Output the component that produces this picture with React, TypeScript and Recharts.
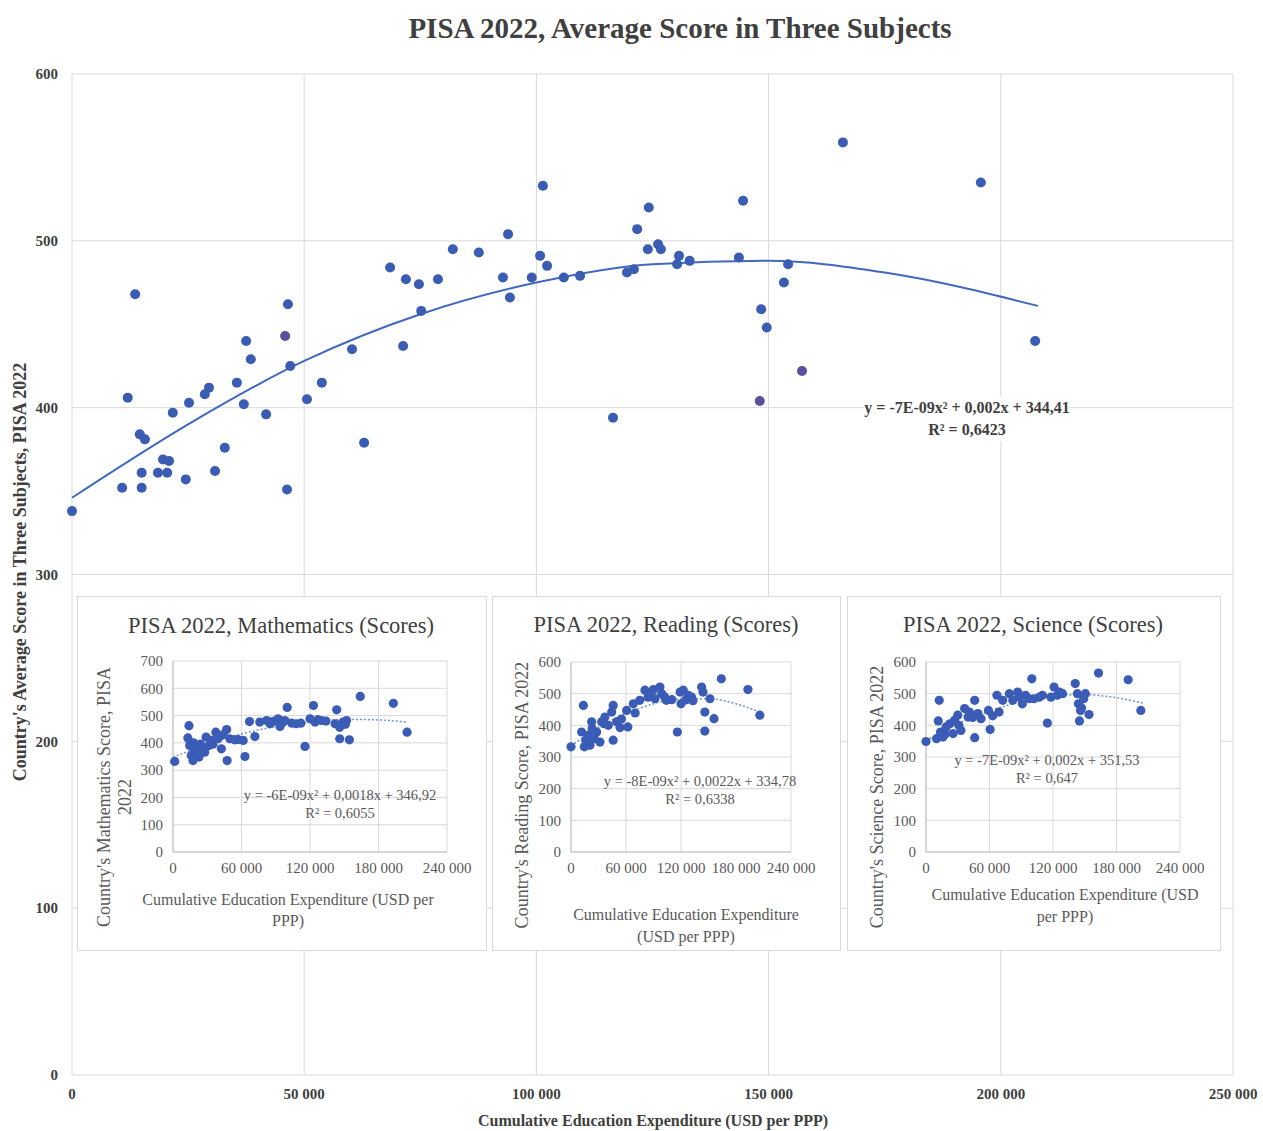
import { ComposedChart, Scatter, Line, XAxis, YAxis, CartesianGrid } from 'recharts'

const SERIF = '"Liberation Serif", "Times New Roman", serif'

// main chart: average of three subjects
const averagePoints = [
  { x: 0, y: 338 }, { x: 10800, y: 352 }, { x: 12000, y: 406 }, { x: 13600, y: 468 },
  { x: 14600, y: 384 }, { x: 15700, y: 381 }, { x: 15000, y: 361 }, { x: 15000, y: 352 },
  { x: 18500, y: 361 }, { x: 19600, y: 369 }, { x: 20900, y: 368 }, { x: 20500, y: 361 },
  { x: 21700, y: 397 }, { x: 24500, y: 357 }, { x: 25200, y: 403 }, { x: 28600, y: 408 },
  { x: 29500, y: 412 }, { x: 30800, y: 362 }, { x: 32900, y: 376 }, { x: 35500, y: 415 },
  { x: 37000, y: 402 }, { x: 37500, y: 440 }, { x: 38500, y: 429 }, { x: 41800, y: 396 },
  { x: 46500, y: 462 }, { x: 46300, y: 351 }, { x: 47000, y: 425 }, { x: 50600, y: 405 },
  { x: 53800, y: 415 }, { x: 60300, y: 435 }, { x: 62900, y: 379 }, { x: 68500, y: 484 },
  { x: 71300, y: 437 }, { x: 71900, y: 477 }, { x: 74700, y: 474 }, { x: 75200, y: 458 },
  { x: 78800, y: 477 }, { x: 82000, y: 495 }, { x: 87600, y: 493 }, { x: 92800, y: 478 },
  { x: 93900, y: 504 }, { x: 94300, y: 466 }, { x: 99000, y: 478 }, { x: 100800, y: 491 },
  { x: 101400, y: 533 }, { x: 102300, y: 485 }, { x: 105900, y: 478 }, { x: 109400, y: 479 },
  { x: 116500, y: 394 }, { x: 119500, y: 481 }, { x: 121000, y: 483 }, { x: 121700, y: 507 },
  { x: 124200, y: 520 }, { x: 124000, y: 495 }, { x: 126200, y: 498 }, { x: 126800, y: 495 },
  { x: 130700, y: 491 }, { x: 130300, y: 486 }, { x: 133000, y: 488 }, { x: 143600, y: 490 },
  { x: 144500, y: 524 }, { x: 148400, y: 459 }, { x: 149600, y: 448 }, { x: 153300, y: 475 },
  { x: 154200, y: 486 }, { x: 166000, y: 559 }, { x: 195700, y: 535 }, { x: 207400, y: 440 },
]
const averagePurple = [
  { x: 45900, y: 443 }, { x: 148100, y: 404 }, { x: 157200, y: 422 },
]
const averageTrend = [
  { x: 0, y: 346 }, { x: 25000, y: 390 }, { x: 50000, y: 428 }, { x: 75000, y: 456 },
  { x: 100000, y: 475 }, { x: 125000, y: 486 }, { x: 150000, y: 488 }, { x: 175000, y: 481 },
  { x: 208000, y: 461 },
]

const mathPoints = [
  { x: 1500, y: 332 }, { x: 14000, y: 463 }, { x: 13000, y: 418 }, { x: 14600, y: 390 },
  { x: 16000, y: 354 }, { x: 17500, y: 335 }, { x: 19000, y: 372 }, { x: 20500, y: 384 },
  { x: 22800, y: 348 }, { x: 25000, y: 378 }, { x: 27800, y: 366 }, { x: 29000, y: 421 },
  { x: 31600, y: 390 }, { x: 33700, y: 409 }, { x: 37500, y: 439 }, { x: 39500, y: 415 },
  { x: 42400, y: 378 }, { x: 47000, y: 449 }, { x: 47400, y: 335 }, { x: 49800, y: 415 },
  { x: 54000, y: 411 }, { x: 61500, y: 409 }, { x: 63000, y: 350 }, { x: 67000, y: 478 },
  { x: 71700, y: 423 }, { x: 76000, y: 476 }, { x: 82000, y: 482 }, { x: 87800, y: 479 },
  { x: 92000, y: 488 }, { x: 93700, y: 460 }, { x: 98000, y: 482 }, { x: 100000, y: 530 },
  { x: 104000, y: 472 }, { x: 108000, y: 470 }, { x: 115600, y: 387 }, { x: 120000, y: 488 },
  { x: 123000, y: 537 }, { x: 124400, y: 476 }, { x: 130000, y: 482 }, { x: 143400, y: 521 },
  { x: 142000, y: 470 }, { x: 146000, y: 457 }, { x: 146000, y: 415 }, { x: 149000, y: 476 },
  { x: 152000, y: 482 }, { x: 154500, y: 411 }, { x: 164000, y: 570 }, { x: 193000, y: 545 },
  { x: 205000, y: 439 }, { x: 18000, y: 400 }, { x: 24000, y: 395 }, { x: 35000, y: 395 },
  { x: 44000, y: 430 }, { x: 57000, y: 412 }, { x: 85000, y: 470 }, { x: 96000, y: 475 },
  { x: 112000, y: 472 }, { x: 127000, y: 485 }, { x: 134000, y: 480 }, { x: 151000, y: 468 },
]
const mathTrend = [
  { x: 0, y: 347 }, { x: 40000, y: 409 }, { x: 80000, y: 452 }, { x: 120000, y: 476 },
  { x: 150000, y: 486 }, { x: 180000, y: 484 }, { x: 205000, y: 476 },
]

const readingPoints = [
  { x: 0, y: 332 }, { x: 13500, y: 463 }, { x: 11600, y: 379 }, { x: 14500, y: 332 },
  { x: 16000, y: 353 }, { x: 19000, y: 368 }, { x: 20700, y: 337 }, { x: 22500, y: 411 },
  { x: 25500, y: 358 }, { x: 28000, y: 379 }, { x: 31600, y: 347 }, { x: 33500, y: 411 },
  { x: 37000, y: 426 }, { x: 40700, y: 400 }, { x: 44400, y: 442 }, { x: 46000, y: 463 },
  { x: 46000, y: 353 }, { x: 49800, y: 411 }, { x: 53500, y: 393 }, { x: 60700, y: 447 },
  { x: 62000, y: 395 }, { x: 68000, y: 468 }, { x: 70000, y: 439 }, { x: 75000, y: 479 },
  { x: 80700, y: 511 }, { x: 84000, y: 489 }, { x: 90000, y: 513 }, { x: 91600, y: 484 },
  { x: 97000, y: 521 }, { x: 99000, y: 500 }, { x: 104000, y: 479 }, { x: 110000, y: 481 },
  { x: 116000, y: 379 }, { x: 119000, y: 505 }, { x: 120000, y: 468 }, { x: 122500, y: 511 },
  { x: 128000, y: 495 }, { x: 131600, y: 489 }, { x: 142500, y: 521 }, { x: 144000, y: 505 },
  { x: 146000, y: 442 }, { x: 146000, y: 382 }, { x: 151600, y: 484 }, { x: 156000, y: 421 },
  { x: 164000, y: 547 }, { x: 193000, y: 513 }, { x: 206000, y: 432 }, { x: 23000, y: 390 },
  { x: 36000, y: 405 }, { x: 55000, y: 420 }, { x: 87000, y: 500 }, { x: 102000, y: 490 },
  { x: 125000, y: 480 }, { x: 133000, y: 478 },
]
const readingTrend = [
  { x: 0, y: 335 }, { x: 40000, y: 410 }, { x: 80000, y: 459 }, { x: 120000, y: 483 },
  { x: 150000, y: 484 }, { x: 180000, y: 468 }, { x: 205000, y: 443 },
]

const sciencePoints = [
  { x: 0, y: 349 }, { x: 12500, y: 479 }, { x: 11600, y: 414 }, { x: 10000, y: 358 },
  { x: 13700, y: 379 }, { x: 16000, y: 363 }, { x: 19000, y: 395 }, { x: 22500, y: 405 },
  { x: 25600, y: 374 }, { x: 27000, y: 416 }, { x: 30000, y: 432 }, { x: 33000, y: 384 },
  { x: 36500, y: 453 }, { x: 39700, y: 426 }, { x: 41000, y: 442 }, { x: 46000, y: 479 },
  { x: 46000, y: 361 }, { x: 49000, y: 437 }, { x: 52000, y: 421 }, { x: 59000, y: 447 },
  { x: 60600, y: 387 }, { x: 67000, y: 495 }, { x: 69000, y: 442 }, { x: 72500, y: 479 },
  { x: 78800, y: 500 }, { x: 82000, y: 479 }, { x: 86600, y: 505 }, { x: 91000, y: 468 },
  { x: 94000, y: 495 }, { x: 97500, y: 484 }, { x: 100000, y: 547 }, { x: 102000, y: 484 },
  { x: 107000, y: 489 }, { x: 114700, y: 407 }, { x: 118000, y: 489 }, { x: 121000, y: 521 },
  { x: 124000, y: 495 }, { x: 129000, y: 500 }, { x: 141000, y: 532 }, { x: 143000, y: 500 },
  { x: 144000, y: 468 }, { x: 145000, y: 414 }, { x: 146000, y: 447 }, { x: 149000, y: 484 },
  { x: 150600, y: 500 }, { x: 154000, y: 434 }, { x: 163000, y: 565 }, { x: 191000, y: 544 },
  { x: 203000, y: 447 }, { x: 18000, y: 372 }, { x: 31000, y: 400 }, { x: 44000, y: 425 },
  { x: 63000, y: 430 }, { x: 88000, y: 490 }, { x: 110000, y: 495 }, { x: 126000, y: 505 },
  { x: 147000, y: 455 },
]
const scienceTrend = [
  { x: 0, y: 352 }, { x: 40000, y: 420 }, { x: 80000, y: 466 }, { x: 120000, y: 493 },
  { x: 150000, y: 497 }, { x: 180000, y: 487 }, { x: 205000, y: 470 },
]

const mainXTicks = [0, 50000, 100000, 150000, 200000, 250000]
const mainYTicks = [0, 100, 200, 300, 400, 500, 600]
const insetXTicks = [0, 60000, 120000, 180000, 240000]
const mathYTicks = [0, 100, 200, 300, 400, 500, 600, 700]
const otherYTicks = [0, 100, 200, 300, 400, 500, 600]

const fmt = (v: number) =>
  v < 1000 ? String(v) : `${Math.floor(v / 1000)} ${String(v % 1000).padStart(3, '0')}`

const dot = (r: number, fill: string) => (p: any) =>
  <circle cx={p.cx} cy={p.cy} r={r} fill={fill} />

function Txt({ x, y, size, bold, rot, color, bg, lh, children }: any) {
  return (
    <div style={{
      position: 'absolute', left: x, top: y,
      transform: `translate(-50%, -50%)${rot ? ` rotate(${rot}deg)` : ''}`,
      whiteSpace: 'pre', textAlign: 'center', fontSize: size,
      fontWeight: bold ? 'bold' : 'normal', color: color || '#404040',
      background: bg, lineHeight: lh ? `${lh}px` : 1.15, fontFamily: SERIF,
    }}>{children}</div>
  )
}

function Inset({ left, top, width, height, margin, yTicks, points, trend }: any) {
  const tick = { fontSize: 15, fill: '#595959', fontFamily: SERIF }
  return (
    <div style={{
      position: 'absolute', left, top, width, height, background: '#fff',
      boxShadow: '0 0 0 1px #d9d9d9',
    }}>
      <ComposedChart width={width} height={height} margin={margin}>
        <CartesianGrid stroke="#d9d9d9" />
        <XAxis type="number" dataKey="x" domain={[0, 240000]} ticks={insetXTicks}
          tickFormatter={fmt} height={30} tick={tick} tickLine={false}
          axisLine={{ stroke: '#bfbfbf' }} tickSize={4} tickMargin={6} />
        <YAxis type="number" dataKey="y" domain={[0, yTicks[yTicks.length - 1]]} ticks={yTicks}
          width={30} tick={tick} tickLine={false} axisLine={{ stroke: '#bfbfbf' }}
          tickSize={4} tickMargin={6} />
        <Line data={trend} dataKey="y" type="monotone" dot={false} stroke="#6f8fd0"
          strokeWidth={1.5} strokeDasharray="2 2" isAnimationActive={false} />
        <Scatter data={points} dataKey="y" shape={dot(4.6, '#3a5cb6')} isAnimationActive={false} />
      </ComposedChart>
    </div>
  )
}

export default function App() {
  const mainTick = { fontSize: 15, fill: '#404040', fontFamily: SERIF, fontWeight: 'bold' }
  return (
    <div style={{ position: 'absolute', left: 0, top: 0, width: 1263, height: 1131, background: '#fff', fontFamily: SERIF }}>
      <div style={{ position: 'absolute', left: 0, top: 0 }}>
        <ComposedChart width={1263} height={1131} margin={{ top: 74, right: 30, bottom: 26, left: 12 }}>
          <CartesianGrid stroke="#d9d9d9" />
          <XAxis type="number" dataKey="x" domain={[0, 250000]} ticks={mainXTicks}
            tickFormatter={fmt} height={30} tick={mainTick} axisLine={false} tickLine={false}
            tickSize={6} tickMargin={7} />
          <YAxis type="number" dataKey="y" domain={[0, 600]} ticks={mainYTicks} width={60}
            tick={mainTick} axisLine={false} tickLine={false} tickSize={6} tickMargin={8} />
          <Scatter data={averagePoints} dataKey="y" shape={dot(5, '#3a5cb3')} isAnimationActive={false} />
          <Scatter data={averagePurple} dataKey="y" shape={dot(5, '#5a4f9f')} isAnimationActive={false} />
          <Line data={averageTrend} dataKey="y" type="monotone" dot={false} stroke="#4168bf"
            strokeWidth={2} isAnimationActive={false} />
        </ComposedChart>
      </div>

      <Txt x={680} y={29} size={29} bold>PISA 2022, Average Score in Three Subjects</Txt>
      <Txt x={20} y={572} size={18} bold rot={-90}>Country's Average Score in Three Subjects, PISA 2022</Txt>
      <Txt x={653} y={1121} size={16} bold>Cumulative Education Expenditure (USD per PPP)</Txt>
      <Txt x={967} y={419} size={16} bold bg="#fff" lh={22}>{'y = -7E-09x² + 0,002x + 344,41\nR² = 0,6423'}</Txt>

      <Inset left={78} top={597} width={408} height={353}
        margin={{ top: 64, right: 39, bottom: 68, left: 65 }}
        yTicks={mathYTicks} points={mathPoints} trend={mathTrend} />
      <Inset left={493} top={597} width={347} height={353}
        margin={{ top: 65, right: 49, bottom: 68, left: 48 }}
        yTicks={otherYTicks} points={readingPoints} trend={readingTrend} />
      <Inset left={848} top={597} width={372} height={353}
        margin={{ top: 65, right: 40, bottom: 68, left: 48 }}
        yTicks={otherYTicks} points={sciencePoints} trend={scienceTrend} />

      <Txt x={281} y={626} size={22.5} color="#404040">PISA 2022, Mathematics (Scores)</Txt>
      <Txt x={115} y={797} size={18} rot={-90} lh={21} color="#595959">{"Country's Mathematics Score, PISA\n2022"}</Txt>
      <Txt x={288} y={910} size={16} lh={21} color="#595959">{'Cumulative Education Expenditure (USD per\nPPP)'}</Txt>
      <Txt x={340} y={804} size={14.5} lh={18} color="#595959">{'y = -6E-09x² + 0,0018x + 346,92\nR² = 0,6055'}</Txt>

      <Txt x={666} y={625} size={22.5} color="#404040">PISA 2022, Reading (Scores)</Txt>
      <Txt x={522} y={795} size={18} rot={-90} color="#595959">Country's Reading Score, PISA 2022</Txt>
      <Txt x={686} y={926} size={16} lh={22} color="#595959">{'Cumulative Education Expenditure\n(USD per PPP)'}</Txt>
      <Txt x={700} y={790} size={14.5} lh={18} color="#595959">{'y = -8E-09x² + 0,0022x + 334,78\nR² = 0,6338'}</Txt>

      <Txt x={1033} y={625} size={22.5} color="#404040">PISA 2022, Science (Scores)</Txt>
      <Txt x={877} y={797} size={18} rot={-90} color="#595959">Country's Science Score, PISA 2022</Txt>
      <Txt x={1065} y={906} size={16} lh={22} color="#595959">{'Cumulative Education Expenditure (USD\nper PPP)'}</Txt>
      <Txt x={1047} y={769} size={14.5} lh={18} color="#595959">{'y = -7E-09x² + 0,002x + 351,53\nR² = 0,647'}</Txt>
    </div>
  )
}
